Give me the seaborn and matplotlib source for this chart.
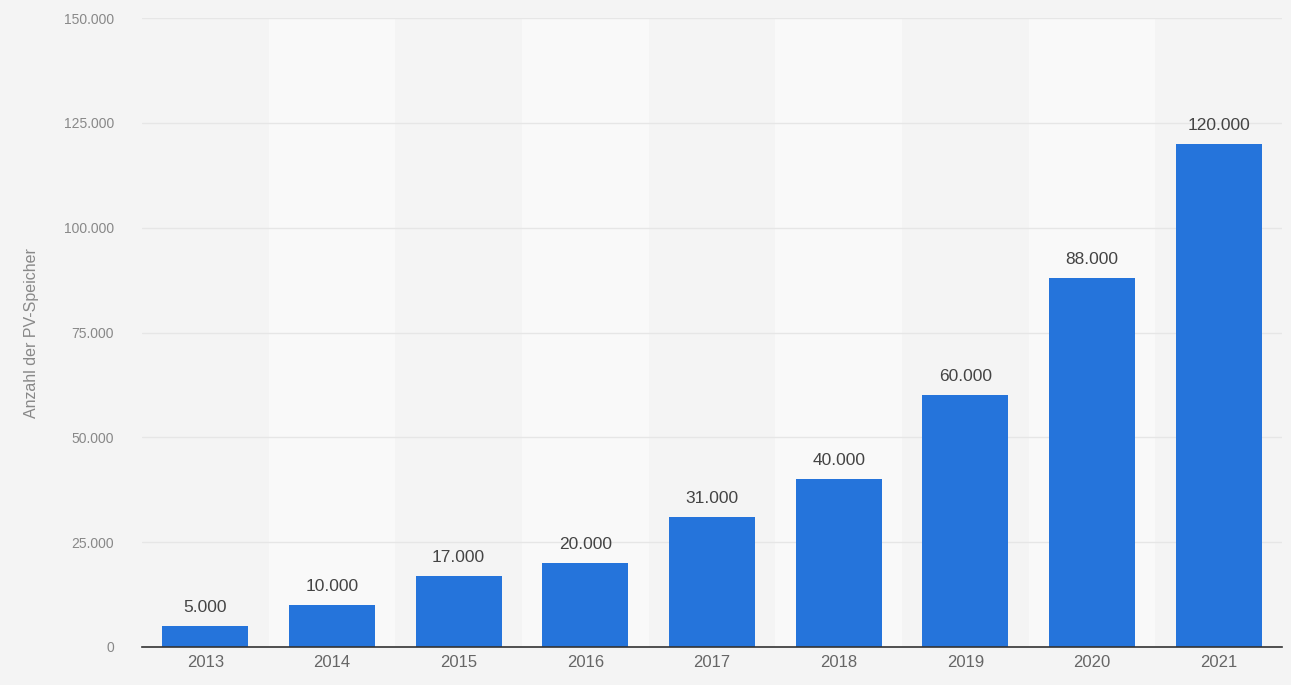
import matplotlib
matplotlib.use("Agg")
import matplotlib.pyplot as plt
import seaborn as sns
import pandas as pd
from matplotlib.ticker import FuncFormatter

years = ["2013", "2014", "2015", "2016", "2017", "2018", "2019", "2020", "2021"]
values = [5000, 10000, 17000, 20000, 31000, 40000, 60000, 88000, 120000]
y_ticks = [0, 25000, 50000, 75000, 100000, 125000, 150000]
y_label = "Anzahl der PV-Speicher"

def de_fmt(v):
    return f"{int(v):,}".replace(",", ".")

sns.set_theme(style="white")
plt.rcParams['font.family'] = ['Liberation Sans', 'DejaVu Sans']

df = pd.DataFrame({"year": years, "value": values})

fig = plt.figure(figsize=(12.91, 6.85), dpi=100)
fig.patch.set_facecolor("#f4f4f4")
ax = fig.add_axes([0.110, 0.0555, 0.883, 0.918])
ax.set_facecolor("#f4f4f4")

sns.barplot(data=df, x="year", y="value", color="#2574db", width=0.68,
            saturation=1, ax=ax, zorder=3, edgecolor="none", linewidth=0)

# alternating lighter bands
for i in range(len(years)):
    if i % 2 == 1:
        ax.axvspan(i - 0.5, i + 0.5, color="#f9f9f9", zorder=0, lw=0)

ax.set_xlim(-0.5, len(years) - 0.5)
ax.set_ylim(0, 150000)
ax.set_yticks(y_ticks)
ax.yaxis.set_major_formatter(FuncFormatter(lambda v, p: de_fmt(v)))
ax.grid(axis="y", color="#e6e6e6", lw=1, zorder=1)
ax.set_axisbelow(True)

for s in ["top", "right", "left"]:
    ax.spines[s].set_visible(False)
ax.spines["bottom"].set_color("#333333")
ax.spines["bottom"].set_linewidth(1.2)
ax.spines["bottom"].set_zorder(5)

ax.tick_params(axis="y", length=0, pad=20, labelsize=10, labelcolor="#888888")
ax.tick_params(axis="x", length=0, pad=6, labelsize=12, labelcolor="#666666")
ax.set_xlabel("")
ax.set_ylabel(y_label, fontsize=11.5, color="#888888", labelpad=18)

for i, v in enumerate(values):
    ax.annotate(de_fmt(v), (i, v), xytext=(0, 8), textcoords="offset points",
                ha="center", va="bottom", fontsize=12.5, color="#444444", zorder=6)

fig.savefig("out.png", dpi=100, facecolor=fig.get_facecolor())
